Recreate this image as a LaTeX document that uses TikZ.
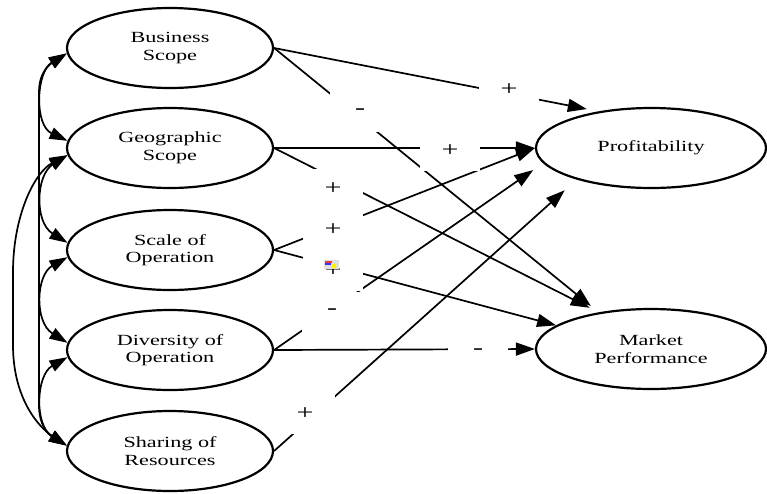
\documentclass[tikz,border=0pt]{standalone}
\usepackage{fontspec}
\setmainfont{Liberation Serif}[FakeStretch=1.43]
\usetikzlibrary{arrows.meta,shapes.geometric}
\begin{document}
\begin{tikzpicture}[x=1pt,y=-1pt,
  var/.style={ellipse, draw, line width=2.2pt, minimum width=206pt, minimum height=80pt,
    inner sep=0pt, align=center, font=\fontsize{15.5}{17.5}\selectfont},
  outv/.style={var, minimum width=230pt},
  conn/.style={line width=1.7pt, -{Triangle[length=19pt,width=13pt]}},
  cor/.style={line width=1.7pt, {Triangle[length=18pt,width=12pt]}-{Triangle[length=18pt,width=12pt]}},
  lab/.style={fill=white, minimum width=60pt, minimum height=40pt, inner sep=0pt,
    font=\fontsize{21}{24}\selectfont}
]
\useasboundingbox (0,0) rectangle (767,493);

% variables
\node[var] (bus) at (170,48) {Business\\Scope};
\node[var] (geo) at (170,148) {Geographic\\Scope};
\node[var] (scale) at (170,250) {Scale of\\Operation};
\node[var] (div) at (170,350) {Diversity of\\Operation};
\node[var] (sh) at (170,451) {Sharing of\\Resources};
\node[outv] (prof) at (651,148) {Profitability};
\node[outv] (mkt) at (651,349) {Market\\Performance};

% correlations on the left
\draw[cor] (bus.183) .. controls (36,72) and (34,125) .. (geo.176);
\draw[cor] (bus.183) .. controls (52,63) and (39,70) .. (39,92) -- (39,405) .. controls (39,425) and (48,434) .. (sh.177);
\draw[cor] (geo.184) .. controls (35,172) and (13,215) .. (13,272) -- (13,345) .. controls (13,400) and (40,428) .. (sh.177);
\draw[cor] (geo.184) .. controls (36,175) and (34,222) .. (scale.176);
\draw[cor] (scale.184) .. controls (36,275) and (34,322) .. (div.176);
\draw[cor] (div.184) .. controls (36,375) and (34,425) .. (sh.177);

% paths to outcomes
\draw[conn, shorten >=12pt] (bus.east) -- (prof.145);
\draw[conn, shorten >=10pt] (bus.east) -- (mkt.145);
\draw[conn] (geo.east) -- (prof.west);
\draw[conn, shorten >=10pt] (geo.east) -- (mkt.145);
\draw[conn] (scale.east) -- (prof.west);
\draw[conn] (scale.east) -- (mkt.166);
\draw[conn, shorten >=12pt] (div.east) -- (prof.188);
\draw[conn] (div.east) -- (mkt.west);
\draw[conn, shorten >=16pt] (sh.east) -- (prof.203);

% path labels
\node[lab] (l1) at (509,90) {+};
\node[lab] (l2) at (360,112) {-};
\node[lab] (l3) at (450,151) {+};
\node[lab] (l4) at (333,189) {+};
\node[lab] (l5) at (333,230) {+};
\node[lab] (l6) at (333,271) {+};
\node[lab] (l7) at (332,312) {-};
\node[lab] (l8) at (305,414) {+};
\node[lab] (l9) at (478,352) {-};

% small broken-image icon
\fill[gray!25] (324,260) rectangle (339,269);
\fill[red!80] (325,261) rectangle (332,262.5);
\fill[blue!80] (325,262.5) rectangle (331,265);
\fill[yellow] (334,266) circle (2.5pt);
\end{tikzpicture}
\end{document}
